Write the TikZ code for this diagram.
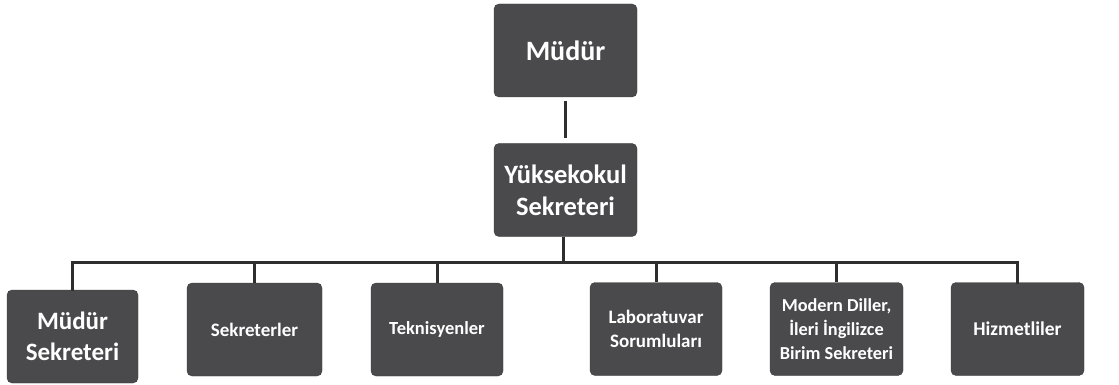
\documentclass[tikz,border=0pt]{standalone}
\usepackage{fontspec}
\setmainfont{Carlito}
\usetikzlibrary{positioning}

\definecolor{kutugri}{HTML}{4A4A4C}
\definecolor{cizgi}{HTML}{2E2E2E}

\begin{document}
\begin{tikzpicture}[x=1pt,y=1pt,node distance=139.5pt,on grid,
    kutu/.style={rectangle,rounded corners=5pt,fill=kutugri,draw=kutugri!80!black,
      text=white,font=\bfseries,align=center,inner sep=2pt,
      minimum width=133pt,minimum height=93pt},
    baglanti/.style={draw=cizgi,line width=3pt}]
      \useasboundingbox[fill=white] (0,0) rectangle (1119,-385);
      \node[kutu,minimum width=143pt,font=\bfseries\fontsize{28}{32}\selectfont] (mudur) at (565.5,-50.5) {Müdür};
      \node[kutu,minimum width=143pt,font=\bfseries\fontsize{26.5}{32}\selectfont] (yo) [below=of mudur] {Yüksekokul\\Sekreteri};
      \node[kutu,minimum width=131pt,font=\bfseries\fontsize{25}{31}\selectfont] (msek) at (72.5,-336.5) {Müdür\\Sekreteri};
      \node[kutu,minimum width=135pt,font=\bfseries\fontsize{19}{23}\selectfont] (sek) at (254.5,-329.5) {Sekreterler};
      \node[kutu,minimum width=132pt,font=\bfseries\fontsize{18.5}{23}\selectfont] (tek) at (437,-329.5) {Teknisyenler};
      \node[kutu,minimum width=132pt,font=\bfseries\fontsize{19}{24}\selectfont] (lab) at (656,-329) {Laboratuvar\\Sorumluları};
      \node[kutu,minimum width=133pt,font=\bfseries\fontsize{18.3}{24}\selectfont] (mdil) at (836.5,-329) {Modern Diller,\\İleri İngilizce\\Birim Sekreteri};
      \node[kutu,minimum width=133pt,font=\bfseries\fontsize{19.5}{23}\selectfont] (hiz) at (1017.5,-329) {Hizmetliler};
      \coordinate (dal) at (563,-262);
        \path[baglanti]
        (mudur.south) edge[shorten <=4pt,shorten >=5pt] (yo.north)
        (yo.south) ++(-2.5,0) edge (dal);
        \draw[baglanti,line cap=rect] (msek.north) |- (dal) -| (hiz.north);
        \foreach \k in {sek,tek,lab,mdil}
          \draw[baglanti] (dal -| \k.north) -- (\k.north);
    \end{tikzpicture}
\end{document}
